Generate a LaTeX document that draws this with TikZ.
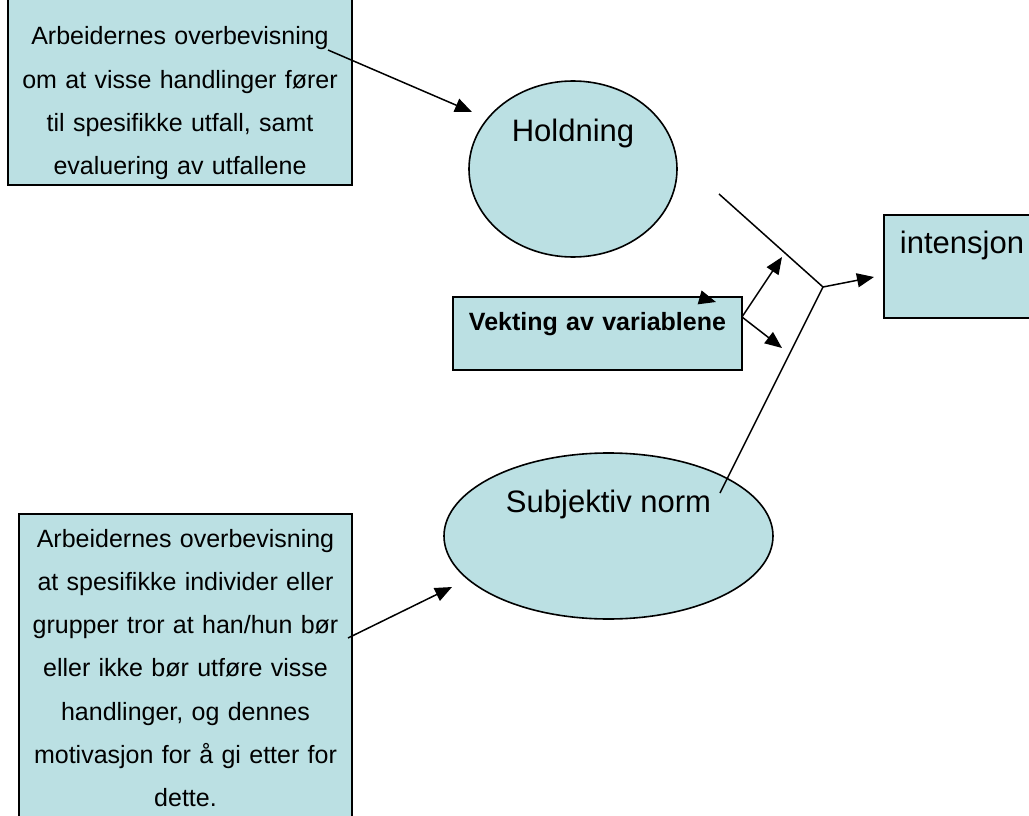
\documentclass[tikz,border=0pt]{standalone}
\usepackage{fontspec}
\setmainfont{Liberation Sans}
\usetikzlibrary{arrows.meta,shapes.geometric}
\definecolor{turkis}{RGB}{187,224,227}
\begin{document}
\begin{tikzpicture}[x=1pt,y=-1pt,
            boks/.style={draw,fill=turkis,line width=1.6pt,inner sep=0pt,align=center,anchor=base,
                font=\fontsize{25}{43.3}\selectfont},
            boble/.style={ellipse,draw,fill=turkis,line width=1.6pt,inner sep=0pt,anchor=base,
                font=\fontsize{31}{36}\selectfont},
            pil/.style={line width=1.5pt,-{Triangle[length=17pt,width=14pt]}}]
            \useasboundingbox (0,0) rectangle (1029,816);
            \clip (0,0) rectangle (1029,816);

            \path (180,45) node (tro) [boks,text width=344pt,text height=50pt,text depth=140pt]
                {Arbeidernes overbevisning\\om at visse handlinger fører\\til spesifikke utfall, samt\\evaluering av utfallene};
            \path (185.5,547) node (sosial) [boks,text width=333pt,text height=33pt,text depth=283pt]
                {Arbeidernes overbevisning\\at spesifikke individer eller\\grupper tror at han/hun bør\\eller ikke bør utføre visse\\handlinger, og dennes\\motivasjon for å gi etter for\\dette.};
            \path (573,142) node (hold) [boble,minimum width=208pt,minimum height=176pt,text height=20pt,text depth=74pt] {Holdning};
            \path (608.5,512) node (norm) [boble,minimum width=329pt,minimum height=166pt,text height=20pt,text depth=68pt] {Subjektiv norm};
            \path (597.5,330) node (vekt) [boks,text width=289pt,text height=33pt,text depth=40pt,
                font=\fontsize{25}{30}\selectfont\bfseries] {Vekting av variablene};
            \path (962,253) node (int) [boks,text width=156pt,text height=38pt,text depth=65pt,
                font=\fontsize{31}{36}\selectfont] {intensjon};

            % knekk og endepunkter
            \coordinate (knekk) at (823,287);
            \coordinate (kopp) at (719,194);
            \coordinate (kned) at (720,493);
            \coordinate (s1) at (328,50);
            \coordinate (h1) at (472,112);
            \coordinate (s2) at (348,638);
            \coordinate (n1) at (452,587);
            \coordinate (i1) at (874,277);
            \coordinate (vs) at (742,317);
            \coordinate (v1) at (782,257);
            \coordinate (v2) at (782,348);
            \coordinate (p0) at (700,297.5);
            \coordinate (p1) at (716,302);

            \draw [pil] (s1) -- (h1);
            \draw [pil] (s2) -- (n1);
            \draw [line width=1.5pt] (kopp) -- (knekk) -- (kned);
            \draw [pil] (knekk) -- (i1);
            \draw [pil] (vs) -- (v1);
            \draw [pil] (vs) -- (v2);
            \draw [pil] (p0) -- (p1);
        \end{tikzpicture}
\end{document}
